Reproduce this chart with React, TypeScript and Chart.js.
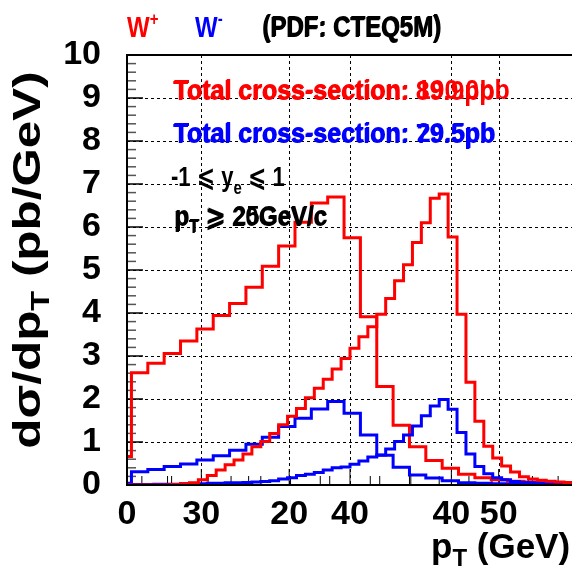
import React, { useEffect, useRef } from 'react';
import { Chart, registerables } from 'chart.js';

Chart.register(...registerables);

// ---- data ----
const BIN_WIDTH = 1.1; // GeV
// Histograms shown on the 25–55 GeV axis (first bin index 22)
const FIRST_BIN_CUT = 22;
const wPlusCut = [0.66, 2.61, 2.83, 3.06, 3.35, 3.63, 3.94, 4.22, 4.6, 5.09, 5.56, 6.11, 6.56, 6.7, 5.75, 3.91, 2.29, 1.39, 0.89, 0.57, 0.39, 0.25, 0.17, 0.12, 0.09, 0.07, 0.05, 0.04];
const wMinusCut = [0.04, 0.31, 0.36, 0.43, 0.49, 0.58, 0.68, 0.81, 0.95, 1.11, 1.36, 1.55, 1.77, 1.94, 1.67, 1.16, 0.69, 0.41, 0.23, 0.16, 0.1, 0.05, 0.04, 0.03, 0.03, 0.02, 0.02, 0.01];
// Histograms shown on the 0–55 GeV axis (first bin index 0)
const FIRST_BIN_FULL = 0;
const wPlusFull = [0, 0, 0, 0, 0, 0.01, 0.03, 0.05, 0.12, 0.22, 0.35, 0.47, 0.58, 0.72, 0.89, 1.01, 1.2, 1.4, 1.6, 1.78, 2.03, 2.25, 2.46, 2.7, 2.94, 3.18, 3.45, 3.68, 3.97, 4.34, 4.75, 5.12, 5.64, 6.1, 6.67, 6.77, 5.77, 3.97, 2.39, 1.48, 0.9, 0.63, 0.44, 0.3, 0.19, 0.14, 0.11, 0.09, 0.07, 0.06];
const wMinusFull = [0.01, 0.01, 0.01, 0.02, 0.02, 0.02, 0.03, 0.03, 0.03, 0.04, 0.04, 0.05, 0.05, 0.06, 0.07, 0.08, 0.1, 0.14, 0.17, 0.22, 0.25, 0.29, 0.35, 0.4, 0.42, 0.48, 0.56, 0.65, 0.7, 0.84, 1.01, 1.16, 1.37, 1.61, 1.84, 1.99, 1.76, 1.22, 0.72, 0.43, 0.26, 0.17, 0.12, 0.08, 0.06, 0.05, 0.04, 0.03, 0.03, 0.02];

const yTicks = [0, 1, 2, 3, 4, 5, 6, 7, 8, 9, 10];
const xTicksFull = [0, 20, 40];
const xTicksCut = [30, 40, 50];
const xRangeFull = [0, 55];
const xRangeCut = [25, 55];
const yRange = [0, 10];

const RED = '#ff0000';
const BLUE = '#0000ff';
const FONT = "'Liberation Sans', Arial, Helvetica, 'DejaVu Sans', sans-serif";
const TICK_SIZE = 34;

function toSteps(values: number[], firstBin: number) {
  const pts = values.map((v, i) => ({ x: (firstBin + i) * BIN_WIDTH, y: v }));
  pts.push({ x: (firstBin + values.length) * BIN_WIDTH, y: values[values.length - 1] });
  return pts;
}

type Part = { t: string; size: number; dy?: number };

// draws mixed-size text; sy stretches glyphs vertically (sx along the text direction)
function drawRich(ctx: CanvasRenderingContext2D, parts: Part[], x: number, y: number, color: string, sy = 1, sx = 1) {
  ctx.save();
  ctx.translate(x, y);
  ctx.scale(sx, sy);
  let cx = 0;
  ctx.fillStyle = color;
  ctx.textAlign = 'left';
  ctx.textBaseline = 'alphabetic';
  for (const p of parts) {
    ctx.font = `bold ${p.size}px ${FONT}`;
    ctx.fillText(p.t, cx, (p.dy || 0));
    cx += ctx.measureText(p.t).width;
  }
  ctx.restore();
}
function richWidth(ctx: CanvasRenderingContext2D, parts: Part[]) {
  let w = 0;
  for (const p of parts) {
    ctx.font = `bold ${p.size}px ${FONT}`;
    w += ctx.measureText(p.t).width;
  }
  return w;
}

const decorPlugin = {
  id: 'decor',
  beforeDatasetsDraw(chart: any) {
    const { ctx, chartArea } = chart;
    const { left, top, bottom } = chartArea;
    const y = chart.scales.y;
    const xa = chart.scales.xA;
    const xb = chart.scales.xB;
    ctx.save();
    // grid lines of the 25–55 axis
    ctx.strokeStyle = '#000';
    ctx.lineWidth = 1;
    ctx.setLineDash([3, 3]);
    for (const v of xTicksCut) {
      const px = Math.round(xb.getPixelForValue(v)) + 0.5;
      ctx.beginPath();
      ctx.moveTo(px, top);
      ctx.lineTo(px, bottom);
      ctx.stroke();
    }
    ctx.setLineDash([]);
    // y ticks
    for (let i = 0; i <= 50; i++) {
      const v = i * 0.2;
      const py = y.getPixelForValue(v);
      const major = i % 5 === 0;
      ctx.strokeStyle = major ? '#000' : '#555';
      ctx.lineWidth = 1.5;
      ctx.beginPath();
      ctx.moveTo(left, py);
      ctx.lineTo(left + (major ? 16 : 9), py);
      ctx.stroke();
    }
    // x ticks
    ctx.strokeStyle = '#000';
    ctx.lineWidth = 1;
    for (let v = 0; v <= 55; v += 5) {
      const px = xa.getPixelForValue(v);
      const major = v % 20 === 0;
      ctx.beginPath();
      ctx.moveTo(px, bottom);
      ctx.lineTo(px, bottom - (major ? 16 : 9));
      ctx.stroke();
    }
    for (let v = 26; v <= 54; v += 2) {
      const px = xb.getPixelForValue(v);
      const major = v % 10 === 0;
      ctx.beginPath();
      ctx.moveTo(px, bottom);
      ctx.lineTo(px, bottom - (major ? 16 : 9));
      ctx.stroke();
    }
    ctx.restore();
  },
  afterDatasetsDraw(chart: any) {
    const { ctx, chartArea } = chart;
    const { left, right, top, bottom } = chartArea;
    const xa = chart.scales.xA;
    const xb = chart.scales.xB;
    ctx.save();
    // frame
    ctx.strokeStyle = '#000';
    ctx.lineWidth = 2;
    ctx.strokeRect(left, top, right - left, bottom - top);

    // tick labels of both x axes
    ctx.fillStyle = '#000';
    ctx.font = `bold ${TICK_SIZE}px ${FONT}`;
    ctx.textAlign = 'center';
    ctx.textBaseline = 'alphabetic';
    for (const v of xTicksFull) ctx.fillText(String(v), xa.getPixelForValue(v), 524);
    for (const v of xTicksCut) ctx.fillText(String(v), xb.getPixelForValue(v), 524);

    // header
    drawRich(ctx, [{ t: 'W', size: 24 }, { t: '+', size: 15, dy: -10 }], 127, 37, RED, 1.2);
    drawRich(ctx, [{ t: 'W', size: 24 }, { t: '-', size: 15, dy: -10 }], 195, 37, BLUE, 1.2);
    drawRich(ctx, [{ t: '(PDF: CTEQ5M)', size: 24 }], 262, 37, '#000', 1.2);
    drawRich(ctx, [{ t: '(PDF: CTEQ5M)', size: 24 }], 263, 36, '#000', 1.2);

    // annotations
    drawRich(ctx, [{ t: 'Total cross-section: 190.0pb', size: 25 }], 174, 99, RED, 1.1);
    drawRich(ctx, [{ t: 'Total cross-section: 89.9pb', size: 25 }], 173, 100, RED, 1.1);
    drawRich(ctx, [{ t: 'Total cross-section: 29.5pb', size: 25 }], 174, 142, BLUE, 1.1);
    drawRich(ctx, [{ t: 'Total cross-section: 79.5pb', size: 25 }], 173, 143, BLUE, 1.1);
    drawRich(ctx, [{ t: '-1 \u2A7D y', size: 22 }, { t: 'e', size: 15, dy: 6 }, { t: ' \u2A7D 1', size: 22 }], 171, 186, '#000', 1.25);
    drawRich(ctx, [{ t: 'p', size: 24 }, { t: 'T', size: 16, dy: 6 }, { t: ' \u2A7E 25GeV/c', size: 24 }], 175, 225, '#000', 1.15);
    drawRich(ctx, [{ t: 'p', size: 24 }, { t: 'T', size: 16, dy: 6 }, { t: ' \u2A7E 20GeV/c', size: 24 }], 174, 226, '#000', 1.15);

    // axis titles
    drawRich(ctx, [{ t: 'p', size: 35 }, { t: 'T', size: 24, dy: 8 }, { t: ' (GeV)', size: 35 }], 431, 558, '#000');
    const yParts: Part[] = [{ t: 'd\u03C3/dp', size: 38 }, { t: 'T', size: 25, dy: 9 }, { t: ' (pb/GeV)', size: 38 }];
    const stretch = 1.3;
    ctx.save();
    ctx.translate(40, 260);
    ctx.rotate(-Math.PI / 2);
    const w = richWidth(ctx, yParts) * stretch;
    drawRich(ctx, yParts, -w / 2, 0, '#000', 1, stretch);
    ctx.restore();
    ctx.restore();
  },
};

export default function App() {
  const ref = useRef<HTMLCanvasElement | null>(null);
  useEffect(() => {
    if (!ref.current) return;
    const tickFont = { family: FONT, size: TICK_SIZE, weight: 'bold' as const };
    const hist = (values: number[], first: number, color: string, axis: string) => ({
      type: 'line' as const,
      data: toSteps(values, first),
      xAxisID: axis,
      yAxisID: 'y',
      borderColor: color,
      borderWidth: 3,
      pointRadius: 0,
      stepped: 'before' as const,
      fill: false,
      tension: 0,
    });
    const chart = new Chart(ref.current, {
      type: 'line',
      data: {
        datasets: [
          hist(wPlusFull, FIRST_BIN_FULL, RED, 'xA'),
          hist(wMinusFull, FIRST_BIN_FULL, BLUE, 'xA'),
          hist(wPlusCut, FIRST_BIN_CUT, RED, 'xB'),
          hist(wMinusCut, FIRST_BIN_CUT, BLUE, 'xB'),
        ],
      },
      options: {
        responsive: false,
        animation: false,
        devicePixelRatio: 1,
        layout: { padding: { left: 0, top: 55, right: 3, bottom: 0 } },
        plugins: { legend: { display: false }, tooltip: { enabled: false } },
        scales: {
          y: {
            type: 'linear',
            min: yRange[0],
            max: yRange[1],
            position: 'left',
            afterBuildTicks: (s: any) => { s.ticks = yTicks.map((v) => ({ value: v })); },
            afterFit: (s: any) => { s.width = 127; },
            ticks: { font: tickFont, color: '#000', padding: 26, autoSkip: false },
            grid: {
              color: (c: any) => (c.tick && (c.tick.value === 0 || c.tick.value === 10) ? 'rgba(0,0,0,0)' : '#000'),
              lineWidth: 1,
              drawTicks: false,
            },
            border: { display: false, dash: [3, 3] },
          },
          xA: {
            type: 'linear',
            min: xRangeFull[0],
            max: xRangeFull[1],
            position: 'bottom',
            afterBuildTicks: (s: any) => { s.ticks = xTicksFull.map((v) => ({ value: v })); },
            afterFit: (s: any) => { s.height = 86; },
            ticks: { display: false },
            grid: {
              color: (c: any) => (c.tick && c.tick.value === 0 ? 'rgba(0,0,0,0)' : '#000'),
              lineWidth: 1,
              drawTicks: false,
            },
            border: { display: false, dash: [3, 3] },
          },
          xB: {
            type: 'linear',
            display: false,
            min: xRangeCut[0],
            max: xRangeCut[1],
            position: 'bottom',
          },
        },
      },
      plugins: [decorPlugin],
    } as any);
    return () => chart.destroy();
  }, []);
  return (
    <div style={{ position: 'fixed', left: 0, top: 0, width: 572, height: 571, overflow: 'hidden', background: '#fff' }}>
      <canvas ref={ref} width={576} height={571} style={{ width: 576, height: 571, display: 'block' }} />
    </div>
  );
}
